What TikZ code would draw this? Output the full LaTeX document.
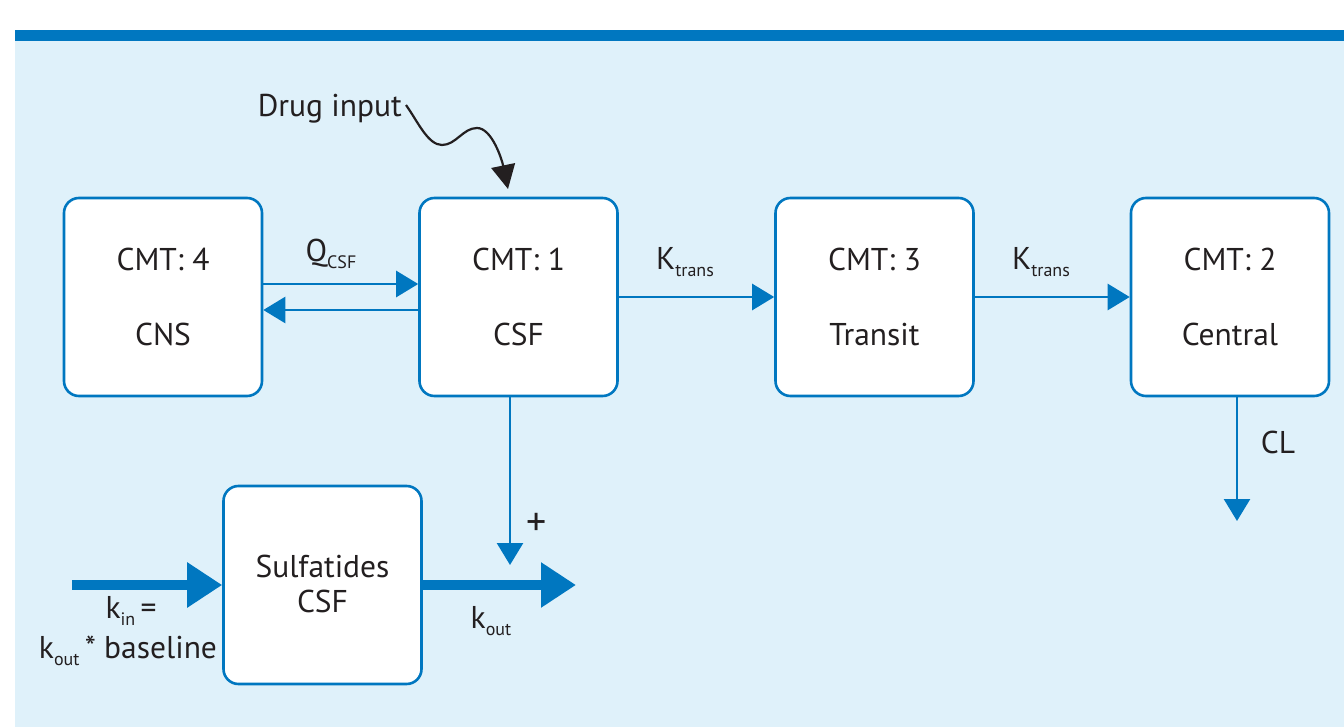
\documentclass[tikz,border=0pt]{standalone}
\usepackage{fontspec}
\setmainfont{PT Sans}
\usetikzlibrary{arrows.meta}
\definecolor{bblue}{HTML}{0077C0}
\definecolor{bgblue}{HTML}{DFF1FA}
\definecolor{txt}{HTML}{231F20}
\tikzset{
  cmtbox/.style={draw=bblue, line width=2.6pt, fill=white, rounded corners=15pt,
    minimum width=198pt, minimum height=198pt, inner sep=0pt, align=center,
    text=txt, font=\fontsize{31.5}{75}\selectfont},
  thinarrow/.style={draw=bblue, line width=2.6pt, -{Triangle[length=22pt,width=26pt]}},
  thickarrow/.style={draw=bblue, line width=10.5pt, -{Triangle[length=35pt,width=43pt]}},
  lbl/.style={text=txt, font=\fontsize{31.5}{36}\selectfont, inner sep=0pt},
}
\newcommand{\sbs}[1]{\raisebox{-7pt}{\fontsize{18}{18}\selectfont #1}}
\begin{document}
\begin{tikzpicture}[x=1pt,y=-1pt]
\useasboundingbox (0,0) rectangle (1344,727);
\fill[white] (0,0) rectangle (1344,727);
\fill[bgblue] (15,41) rectangle (1344,727);
\fill[bblue] (15,30) rectangle (1344,41);

\node[cmtbox] (cns) at (163,297) {CMT: 4\\CNS};
\node[cmtbox] (csf) at (518.5,297) {CMT: 1\\CSF};
\node[cmtbox] (transit) at (874.5,297) {CMT: 3\\Transit};
\node[cmtbox] (central) at (1230,297) {CMT: 2\\Central};
\node[cmtbox] (sulf) at (322.5,585) {};
\node[text=txt, align=center, font=\fontsize{31.5}{35}\selectfont, inner sep=0pt] (sulftext) at (322.5,584) {Sulfatides\\CSF};

% connectors between compartments
\draw[thinarrow] ([yshift=13pt]cns.east) -- ([yshift=13pt]csf.west);
\draw[thinarrow] ([yshift=-13pt]csf.west) -- ([yshift=-13pt]cns.east);
\draw[thinarrow] (csf.east) -- (transit.west);
\draw[thinarrow] (transit.east) -- (central.west);

\coordinate (clend) at (1237,521);
\draw[thinarrow] (central.south -| clend) -- (clend);

\coordinate (plusend) at (510,565);
\draw[thinarrow] (csf.south -| plusend) -- (plusend);

\coordinate (kinstart) at (72,585);
\coordinate (koutend) at (576,585);
\draw[thickarrow] (kinstart) -- (sulf.west);
\draw[thickarrow] (sulf.east) -- (koutend);

% labels
\node[lbl] (qcsf) at (331,254) {Q\sbs{CSF}};
\node[lbl] (kt1) at (685,262) {K\sbs{trans}};
\node[lbl] (kt2) at (1041,262) {K\sbs{trans}};
\node[lbl] (cl) at (1278,442) {CL};
\node[lbl] (plus) at (537,524) {\fontsize{40}{40}\selectfont +};
\node[lbl] (kin) at (131,611) {k\sbs{in}\,=};
\node[lbl] (kbase) at (128,651) {k\sbs{out}\,* baseline};
\node[lbl] (kout) at (491,621) {k\sbs{out}};

% drug input
\node[lbl, anchor=east] (drug) at (402,109) {Drug input};
\draw[line width=2.2pt, txt, -{Triangle[length=24pt,width=24pt]}]
  ([xshift=4pt,yshift=4pt]drug.east) .. controls (418,122) and (428,145) .. (442,145)
  .. controls (456,145) and (463,128) .. (477,128)
  .. controls (492,128) and (502,160) .. (508,189);
\end{tikzpicture}
\end{document}
